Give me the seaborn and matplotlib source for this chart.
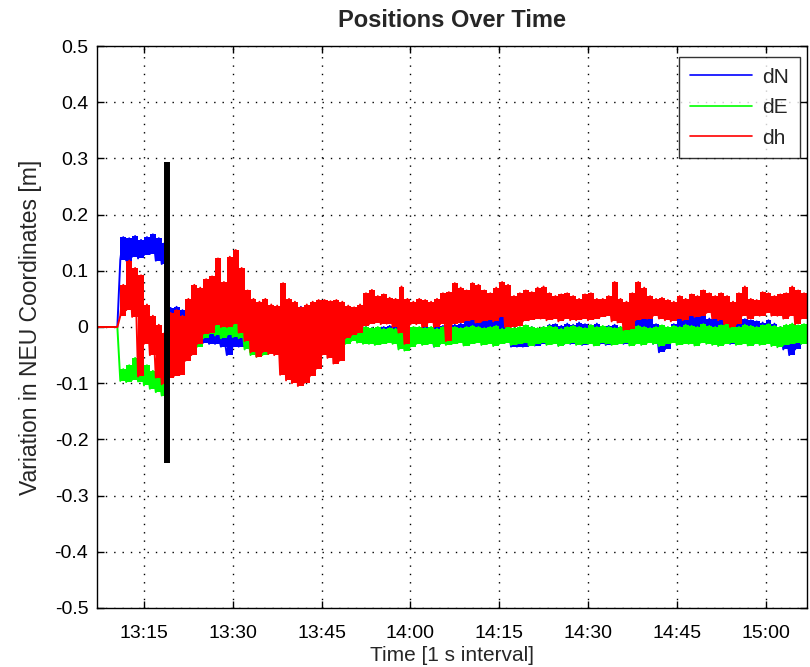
import numpy as np
import pandas as pd
import matplotlib
matplotlib.use("Agg")
import matplotlib.pyplot as plt
import seaborn as sns

# Per-minute extremes of each coordinate variation [m], first minute = 13:07
dN_hi = [0, 0, 0, 0, 0.160, 0.158, 0.162, 0.155, 0.160, 0.165,
         0.158, 0.150, 0.034, 0.036, 0.030, 0.010, 0.010, 0.000, -0.010, -0.012,
         -0.012, -0.015, -0.015, -0.010, -0.015, -0.015, -0.015, -0.020, -0.020, -0.018,
         -0.015, 0.030, 0.036, 0.030, 0.036, 0.030, 0.025, 0.024, 0.020, 0.018,
         0.015, 0.012, 0.010, 0.005, 0.000, 0.000, -0.002, -0.005, 0.000, 0.002,
         0.000, -0.005, -0.005, -0.005, -0.002, 0.000, -0.003, 0.000, 0.002, 0.000,
         0.004, 0.006, 0.010, 0.015, 0.020, 0.018, 0.024, 0.020, 0.018, 0.010,
         -0.005, -0.008, -0.005, 0.000, -0.010, 0.000, 0.004, 0.005, 0.002, 0.006,
         0.004, 0.008, 0.005, 0.003, 0.006, 0.000, 0.002, 0.004, 0.000, 0.006,
         0.015, 0.035, 0.030, 0.020, 0.005, -0.005, -0.005, 0.005, 0.015, 0.012,
         0.020, 0.018, 0.020, 0.015, 0.018, 0.012, 0.016, 0.015, 0.010, 0.014,
         0.012, 0.010, 0.008, 0.012, 0.006, 0.000, -0.005, -0.010, -0.005, 0.000]
dN_lo = [0, 0, 0, 0, 0.120, 0.118, 0.125, 0.122, 0.128, 0.130,
         0.118, 0.112, -0.002, 0.000, -0.005, -0.010, -0.020, -0.025, -0.028, -0.030,
         -0.030, -0.035, -0.050, -0.035, -0.035, -0.035, -0.035, -0.040, -0.040, -0.035,
         -0.030, 0.000, 0.000, 0.000, 0.005, 0.000, 0.000, -0.005, -0.005, -0.008,
         -0.010, -0.010, -0.015, -0.020, -0.020, -0.025, -0.028, -0.030, -0.028, -0.025,
         -0.025, -0.030, -0.030, -0.030, -0.028, -0.030, -0.028, -0.035, -0.030, -0.028,
         -0.025, -0.022, -0.020, -0.015, -0.012, -0.015, -0.010, -0.010, -0.005, -0.020,
         -0.035, -0.035, -0.035, -0.030, -0.033, -0.030, -0.030, -0.028, -0.032, -0.030,
         -0.030, -0.028, -0.032, -0.030, -0.028, -0.030, -0.032, -0.028, -0.030, -0.030,
         -0.020, -0.005, -0.010, -0.015, -0.030, -0.045, -0.040, -0.025, -0.020, -0.022,
         -0.020, -0.015, -0.010, -0.012, -0.015, -0.020, -0.025, -0.030, -0.028, -0.025,
         -0.025, -0.030, -0.028, -0.025, -0.030, -0.030, -0.040, -0.050, -0.040, -0.030]

dE_hi = [0, 0, 0, 0, -0.075, -0.068, -0.055, -0.058, -0.068, -0.078,
         -0.083, -0.090, -0.005, -0.005, -0.005, -0.003, 0.000, 0.000, 0.010, 0.012,
         0.010, 0.000, 0.020, 0.025, 0.010, -0.010, -0.015, -0.020, -0.020, -0.020,
         -0.020, -0.010, -0.005, 0.000, 0.000, 0.002, 0.000, 0.000, 0.002, 0.000,
         0.000, 0.002, 0.000, 0.000, -0.002, 0.000, -0.002, 0.000, -0.003, -0.002,
         -0.003, -0.005, -0.010, 0.000, 0.000, -0.002, 0.000, -0.003, 0.000, -0.002,
         0.000, -0.002, 0.000, 0.002, 0.000, -0.002, 0.000, 0.002, -0.003, 0.000,
         -0.002, 0.000, 0.003, 0.000, -0.002, 0.000, 0.002, 0.000, -0.003, 0.000,
         0.002, 0.000, -0.002, 0.003, 0.000, 0.002, 0.000, -0.002, 0.000, 0.003,
         0.000, 0.002, 0.000, -0.002, 0.000, 0.003, 0.000, 0.002, 0.000, 0.004,
         0.002, 0.000, 0.005, 0.002, 0.000, 0.003, 0.005, 0.002, 0.000, 0.004,
         0.002, 0.000, 0.003, 0.005, 0.002, 0.000, 0.004, 0.006, 0.003, 0.005]
dE_lo = [0, 0, 0, 0, -0.096, -0.098, -0.094, -0.097, -0.104, -0.110,
         -0.116, -0.122, -0.020, -0.022, -0.025, -0.025, -0.022, -0.035, -0.020, -0.012,
         -0.015, -0.020, -0.015, -0.018, -0.020, -0.040, -0.050, -0.053, -0.050, -0.048,
         -0.045, -0.030, -0.030, -0.030, -0.030, -0.030, -0.032, -0.030, -0.030, -0.030,
         -0.030, -0.028, -0.030, -0.025, -0.028, -0.030, -0.030, -0.032, -0.030, -0.028,
         -0.030, -0.040, -0.042, -0.035, -0.030, -0.032, -0.030, -0.035, -0.030, -0.032,
         -0.030, -0.028, -0.033, -0.030, -0.028, -0.032, -0.030, -0.034, -0.030, -0.028,
         -0.032, -0.030, -0.028, -0.033, -0.030, -0.028, -0.032, -0.030, -0.034, -0.030,
         -0.028, -0.032, -0.030, -0.030, -0.033, -0.028, -0.030, -0.032, -0.030, -0.028,
         -0.033, -0.030, -0.032, -0.028, -0.030, -0.034, -0.030, -0.028, -0.032, -0.030,
         -0.030, -0.033, -0.028, -0.030, -0.032, -0.034, -0.030, -0.028, -0.032, -0.030,
         -0.033, -0.030, -0.032, -0.030, -0.034, -0.036, -0.032, -0.030, -0.028, -0.030]

dh_hi = [0, 0, 0, 0, 0.075, 0.118, 0.105, 0.092, 0.040, 0.020,
         0.004, -0.010, 0.025, 0.030, 0.020, 0.050, 0.075, 0.070, 0.085, 0.090,
         0.122, 0.080, 0.125, 0.137, 0.105, 0.065, 0.050, 0.045, 0.050, 0.040,
         0.038, 0.078, 0.050, 0.045, 0.035, 0.040, 0.045, 0.048, 0.048, 0.046,
         0.048, 0.045, 0.038, 0.035, 0.040, 0.060, 0.066, 0.055, 0.058, 0.052,
         0.050, 0.072, 0.050, 0.045, 0.050, 0.048, 0.045, 0.050, 0.060, 0.062,
         0.078, 0.070, 0.065, 0.078, 0.075, 0.065, 0.060, 0.070, 0.080, 0.075,
         0.055, 0.060, 0.065, 0.062, 0.070, 0.072, 0.060, 0.055, 0.058, 0.060,
         0.055, 0.050, 0.058, 0.060, 0.050, 0.050, 0.055, 0.080, 0.050, 0.045,
         0.060, 0.080, 0.070, 0.055, 0.050, 0.052, 0.048, 0.045, 0.055, 0.050,
         0.058, 0.055, 0.065, 0.060, 0.055, 0.060, 0.055, 0.045, 0.060, 0.072,
         0.050, 0.048, 0.062, 0.060, 0.055, 0.058, 0.060, 0.072, 0.065, 0.060]
dh_lo = [0, 0, 0, 0, 0.020, 0.030, 0.018, -0.088, -0.030, -0.050,
         -0.090, -0.102, -0.090, -0.088, -0.085, -0.060, -0.050, -0.030, -0.012, -0.010,
         0.004, 0.000, 0.000, 0.005, -0.010, -0.025, -0.045, -0.053, -0.045, -0.048,
         -0.050, -0.085, -0.095, -0.100, -0.105, -0.100, -0.088, -0.075, -0.050, -0.055,
         -0.065, -0.060, -0.020, -0.015, -0.010, 0.002, 0.005, 0.008, 0.005, 0.006,
         0.000, -0.010, -0.030, 0.005, 0.005, 0.000, 0.008, 0.000, 0.005, -0.025,
         0.005, 0.008, 0.010, 0.012, 0.008, 0.010, 0.012, 0.010, 0.018, 0.000,
         0.000, 0.002, 0.010, 0.012, 0.015, 0.015, 0.012, 0.014, 0.010, 0.015,
         0.012, 0.012, 0.015, 0.012, 0.015, 0.018, 0.020, 0.010, 0.008, -0.005,
         -0.004, 0.012, 0.015, 0.015, 0.020, 0.015, 0.012, 0.010, 0.015, 0.012,
         0.020, 0.018, 0.020, 0.025, 0.015, 0.012, 0.005, 0.000, 0.005, 0.020,
         0.015, 0.020, 0.020, 0.025, 0.020, 0.020, 0.015, 0.020, 0.005, 0.015]

components = ["dN", "dE", "dh"]
colors = {"dN": "#0000ff", "dE": "#00ff00", "dh": "#ff0000"}

start_minute = 7          # first record at 13:07 (minutes after 13:00)
end_minute = 127          # last record before 15:07
x_ticks = [15, 30, 45, 60, 75, 90, 105, 120]
x_tick_labels = ["13:15", "13:30", "13:45", "14:00", "14:15", "14:30", "14:45", "15:00"]
y_ticks = [0.5, 0.4, 0.3, 0.2, 0.1, 0, -0.1, -0.2, -0.3, -0.4, -0.5]
y_tick_labels = ["0.5", "0.4", "0.3", "0.2", "0.1", "0", "-0.1", "-0.2", "-0.3", "-0.4", "-0.5"]

# convergence marker
marker_minute = 18.9
marker_top = 0.294
marker_bottom = -0.242

series = {"dN": (dN_lo, dN_hi), "dE": (dE_lo, dE_hi), "dh": (dh_lo, dh_hi)}


def trace(lo, hi):
    """Interleave each minute's low and high readings into one trace."""
    m = np.arange(len(lo))
    t = np.empty(2 * len(lo))
    v = np.empty(2 * len(lo))
    t[0::2] = start_minute + m
    t[1::2] = start_minute + m + 0.5
    v[0::2] = lo
    v[1::2] = hi
    return t, v


frames = []
for name in components:
    lo, hi = series[name]
    t, v = trace(np.array(lo), np.array(hi))
    frames.append(pd.DataFrame({"minute": t, "value": v, "component": name}))
df = pd.concat(frames, ignore_index=True)

sns.set_theme(style="white")
plt.rcParams["font.family"] = ["Liberation Sans", "DejaVu Sans"]

fig = plt.figure(figsize=(8.10, 6.67), dpi=100)
ax = fig.add_axes([0.1193, 0.0885, 0.8770, 0.8425])

sns.lineplot(data=df, x="minute", y="value", hue="component", hue_order=components,
             palette=colors, estimator=None, sort=False, linewidth=1.4,
             legend=False, ax=ax)
series_lines = ax.get_lines()[:3]

# per-minute spread of each component as a solid band
for k, name in enumerate(components):
    lo, hi = series[name]
    edges = start_minute + np.arange(len(lo) + 1)
    lo_s = np.append(lo, lo[-1])
    hi_s = np.append(hi, hi[-1])
    ax.fill_between(edges, lo_s, hi_s, step="post", color=colors[name],
                    linewidth=0.0, zorder=2 + 0.1 * k)
    series_lines[k].set_zorder(2.05 + 0.1 * k)

ax.vlines(marker_minute, marker_bottom, marker_top, colors="black", linewidth=4.3, zorder=5)

ax.set_xlim(start_minute, end_minute)
ax.set_ylim(-0.5, 0.5)
ax.set_xticks(x_ticks)
ax.set_xticklabels(x_tick_labels)
ax.set_yticks(y_ticks)
ax.set_yticklabels(y_tick_labels)

ax.grid(True, color="black", linestyle=(0, (1, 5)), linewidth=1.0)
ax.set_axisbelow(True)
for s in ax.spines.values():
    s.set_visible(True)
    s.set_color("black")
    s.set_linewidth(1.0)
ax.tick_params(axis="x", pad=12)
ax.tick_params(axis="y", pad=6)
ax.tick_params(axis="both", which="both", direction="in", length=5, width=1,
               top=True, right=True, bottom=True, left=True,
               labelsize=14, colors="black")

ax.set_title("Positions Over Time", fontsize=17, fontweight="bold", pad=14)
ax.set_xlabel("Time [1 s interval]", fontsize=15, labelpad=3)
ax.set_ylabel("Variation in NEU Coordinates [m]", fontsize=16.5, labelpad=9)

leg = ax.legend(series_lines, components, loc="upper right",
                bbox_to_anchor=(0.990, 0.980), borderaxespad=0,
                fontsize=15, frameon=True, fancybox=False,
                handlelength=3.0, handletextpad=0.5, labelspacing=0.55,
                borderpad=0.5)
leg.get_frame().set_edgecolor("black")
leg.get_frame().set_linewidth(1.0)
leg.set_zorder(10)
for h in leg.get_lines():
    h.set_linewidth(1.2)

fig.savefig("out.png", dpi=100, facecolor="white")
